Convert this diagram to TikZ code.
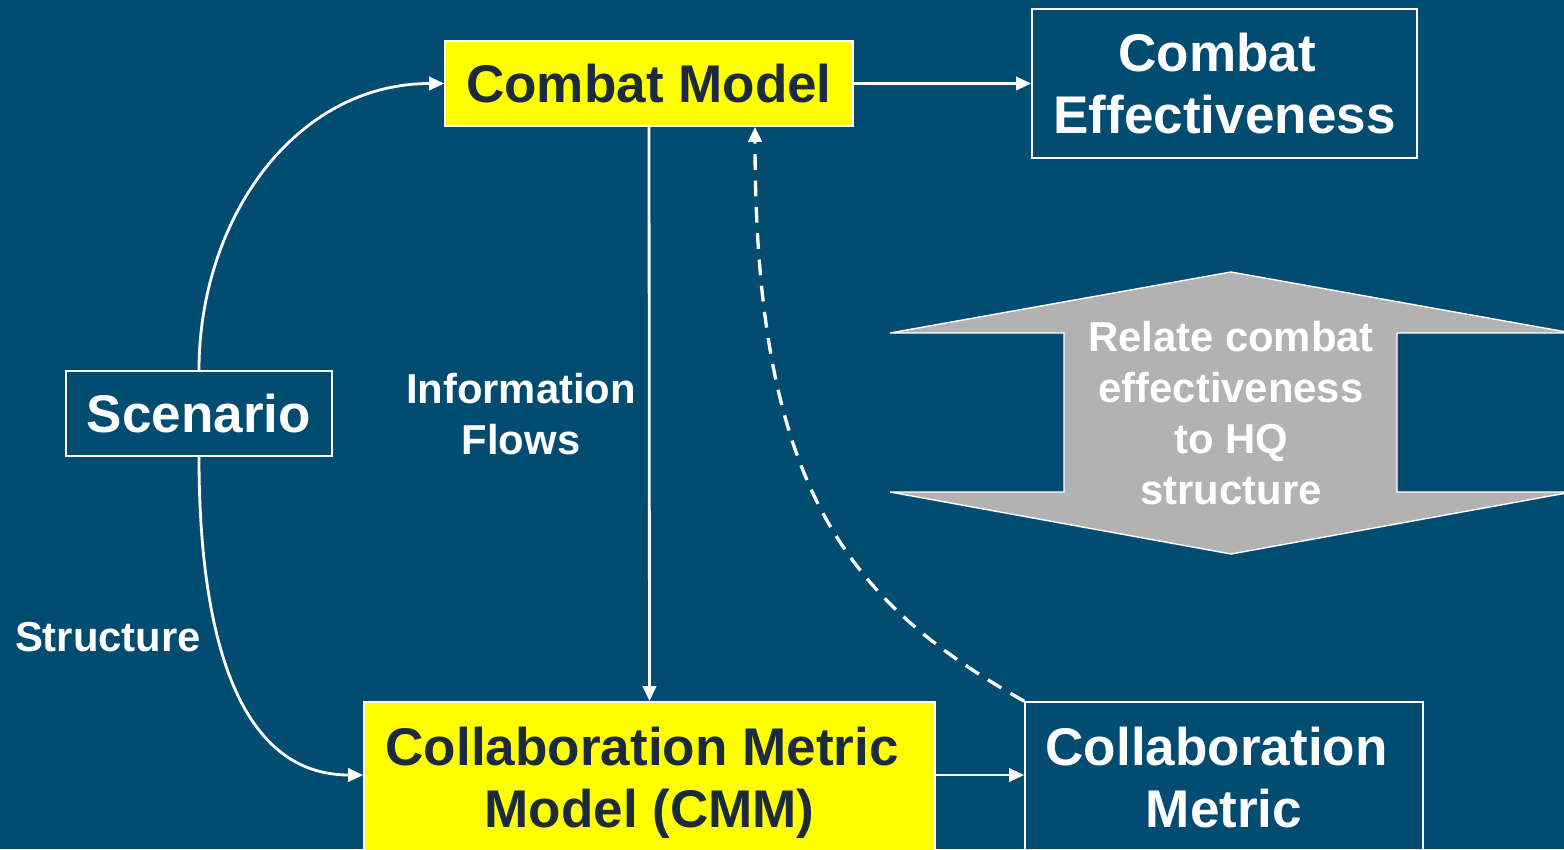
\documentclass[tikz,border=0pt]{standalone}
\usepackage{fontspec}
\setmainfont{Liberation Sans}
\usetikzlibrary{arrows.meta,calc}
\definecolor{slidebg}{RGB}{1,76,112}
\definecolor{hilite}{RGB}{255,255,0}
\definecolor{inkdark}{RGB}{28,42,58}
\definecolor{bandgray}{RGB}{178,178,178}

\begin{document}
\begin{tikzpicture}[x=0.02cm,y=-0.02cm,
  every node/.style={align=center, inner sep=0pt},
  bigtext/.style={font=\fontsize{30.2}{35}\selectfont\bfseries},
  midtext/.style={font=\fontsize{23.8}{29}\selectfont\bfseries, text=white},
  modelbox/.style={draw=white, line width=1pt, fill=hilite, text=inkdark, bigtext},
  outbox/.style={draw=white, line width=1pt, text=white, bigtext},
  flow/.style={draw=white, line width=1.6pt, -{Triangle[length=8.5pt,width=7.5pt]}},
  feedback/.style={flow, line width=1.9pt, dash pattern=on 9pt off 6pt}
]
% canvas
\useasboundingbox (0,0) rectangle (1564,849);
\clip (0,0) rectangle (1564,849);
\fill[slidebg] (0,0) rectangle (1564,849);

% double-headed band between the two outputs
\filldraw[fill=bandgray, draw=white, line width=0.8pt]
  (1231,272) -- (1572,333) -- (1397,333) -- (1397,492) -- (1572,492)
  -- (1231,554) -- (890,492) -- (1064,492) -- (1064,333) -- (890,333) -- cycle;
\node[midtext] (relate) at (1231,413) {Relate combat\\effectiveness\\to HQ\\structure};

% boxes
\node[modelbox, minimum width=8.16cm, minimum height=1.70cm] (cm) at (649,83.5) {Combat Model};
\node[outbox, minimum width=7.70cm, minimum height=2.98cm] (ce) at (1224.5,83.5)
  {Combat\hspace*{0.278em}\\Effectiveness};
\node[outbox, minimum width=5.32cm, minimum height=1.70cm] (scen) at (199,413.5) {Scenario};
\node[modelbox, minimum width=11.42cm, minimum height=3.24cm] (cmm) at (649.5,783)
  {Collaboration Metric\hspace*{0.278em}\\Model (CMM)};
\node[outbox, minimum width=7.96cm, minimum height=3.02cm] (cmet) at (1224,777.5)
  {Collaboration\hspace*{0.278em}\\Metric};

% labels
\node[midtext] (info) at (521,414) {Information\\Flows};
\node[midtext] (struct) at (108,637) {Structure};

% connectors
\draw[flow] (scen.north) .. controls +(0,-150) and +(-150,0) .. (cm.west);
\draw[flow] (scen.south) .. controls +(0,140) and +(-140,0) .. (cmm.west |- 0,775);
\draw[flow] (cm.east) -- (ce.west);
\draw[flow] (cm.south) -- (cmm.north);
\draw[flow] (cmm.east |- 0,775) -- (cmet.west |- 0,775);
\draw[feedback] (cmet.north west) .. controls +(-182,-102) and +(0,354) .. ($(cm.south)+(106,0)$);
\end{tikzpicture}
\end{document}
